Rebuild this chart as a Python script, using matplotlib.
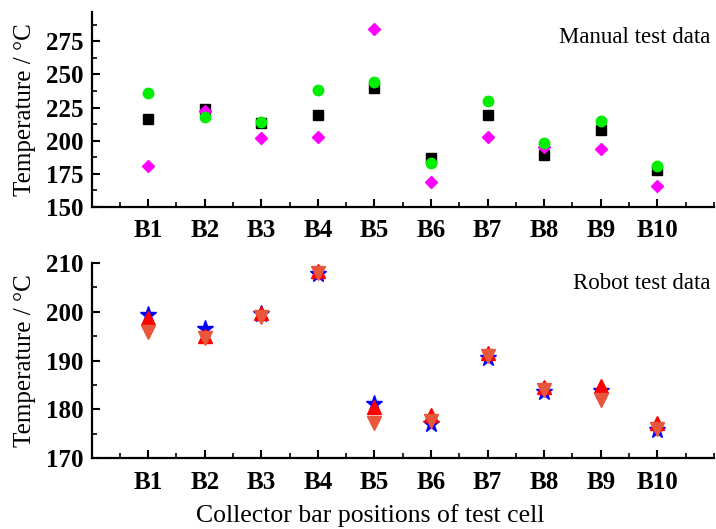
import matplotlib.pyplot as plt
from matplotlib.ticker import MultipleLocator

plt.rcParams['font.family'] = ['Liberation Serif', 'DejaVu Serif']

positions = ['B1', 'B2', 'B3', 'B4', 'B5', 'B6', 'B7', 'B8', 'B9', 'B10']

# manual test data (three series)
manual_black = [216, 224, 213.5, 219, 240, 186.7, 219.6, 189, 208, 178]
manual_green = [235.6, 218, 214, 238, 244, 183, 230, 198, 215, 181]
manual_magenta = [180.6, 222, 202, 202.7, 284.5, 169, 202.7, 195, 193.5, 166]

# robot test data (three series)
robot_star = [199.4, 196.5, 199.5, 207.7, 181, 177, 190.5, 183.5, 183.7, 175.8]
robot_up = [198.7, 195, 199.7, 208.3, 180.4, 178.8, 191.5, 184.5, 184.8, 177.2]
robot_down = [195.9, 194.6, 199, 208, 177.2, 177.6, 191, 184, 182, 176]

x = list(range(1, len(positions) + 1))

fig = plt.figure(figsize=(7.16, 5.29), dpi=100)
ax1 = fig.add_axes([0.128, 0.609, 0.869, 0.368])
ax2 = fig.add_axes([0.128, 0.134, 0.869, 0.369])

ax1.plot(x, manual_black, 's', color='black', ms=6.5, ls='none')
ax1.plot(x, manual_magenta, 'D', color='#ff00ff', ms=6, ls='none')
ax1.plot(x, manual_green, 'o', color='#00ee00', ms=7.5, ls='none')

ax2.plot(x, robot_star, '*', color='#0000ff', ms=12.5, ls='none')
ax2.plot(x, robot_up, '^', color='#ff0000', ms=10, ls='none')
ax2.plot(x, robot_down, 'v', color='#e8573c', ms=10, ls='none')

ax1.set_ylim(150, 297)
ax1.yaxis.set_major_locator(MultipleLocator(25))
ax1.yaxis.set_minor_locator(MultipleLocator(12.5))

ax2.set_ylim(170, 210)
ax2.yaxis.set_major_locator(MultipleLocator(10))
ax2.yaxis.set_minor_locator(MultipleLocator(5))

for ax in (ax1, ax2):
    ax.spines['top'].set_visible(False)
    ax.spines['right'].set_visible(False)
    ax.spines['left'].set_linewidth(1.6)
    ax.spines['bottom'].set_linewidth(1.6)
    ax.set_xlim(0, 11)
    ax.set_xticks(x)
    ax.set_xticklabels(positions)
    ax.xaxis.set_minor_locator(MultipleLocator(0.5))
    ax.tick_params(which='major', direction='in', length=6, width=1.5,
                   labelsize=18)
    ax.tick_params(which='minor', direction='in', length=3.5, width=1.2)
    ax.tick_params(axis='x', which='major', pad=9)
    ax.tick_params(axis='y', which='major', pad=6)
    for lab in ax.get_xticklabels() + ax.get_yticklabels():
        lab.set_fontweight('bold')
    ax.set_ylabel('Temperature / °C', fontsize=18)
    ax.yaxis.set_label_coords(-0.089, 0.5)

ax1.text(0.995, 0.87, 'Manual test data', transform=ax1.transAxes,
         ha='right', va='center', fontsize=16.5)
ax2.text(0.995, 0.895, 'Robot test data', transform=ax2.transAxes,
         ha='right', va='center', fontsize=16.5)

fig.text(0.517, 0.026, 'Collector bar positions of test cell',
         ha='center', va='center', fontsize=18.5)

fig.savefig('out.png', dpi=100)
